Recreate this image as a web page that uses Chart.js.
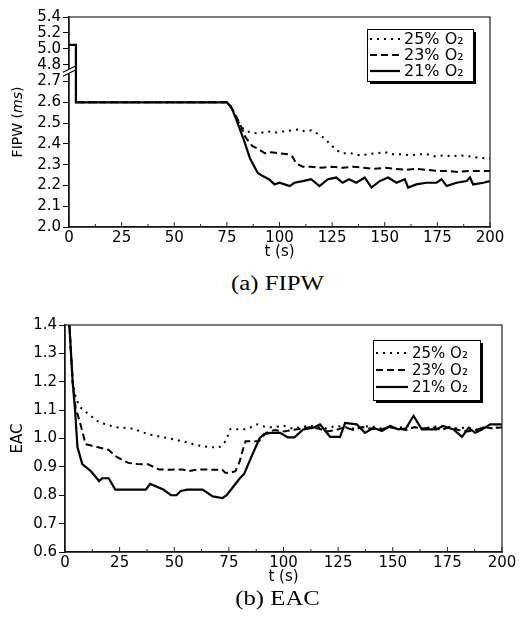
<!DOCTYPE html>
<html lang="en">
<head>
<meta charset="UTF-8">
<title>FIPW and EAC vs time</title>
<script src="https://cdn.jsdelivr.net/npm/chart.js"></script>
<style>
    body { margin: 0; background: #fff; }
    .page { position: relative; width: 519px; height: 619px; overflow: hidden; }
    canvas { position: absolute; left: 0; }
    #fipwChart { top: 0; }
    #eacChart { top: 300px; }
    .caption { position: absolute; left: 18px; width: 519px; text-align: center; font-family: "Liberation Serif", serif;
               font-size: 21px; line-height: 24px; color: #000; transform: scaleX(1.18); }
</style>
</head>
<body>
<div class="page">
    <canvas id="fipwChart" width="519" height="268"></canvas>
    <div class="caption" style="top:271px">(a) FIPW</div>
    <canvas id="eacChart" width="519" height="290"></canvas>
    <div class="caption" style="top:586px">(b) EAC</div>
</div>

<script>
// ---- data ----
const seriesLabels = ['25% O₂', '23% O₂', '21% O₂'];
const timeTicks = [0, 25, 50, 75, 100, 125, 150, 175, 200];

// (a) FIPW, ms
const fipwTicks = [2.0, 2.1, 2.2, 2.3, 2.4, 2.5, 2.6, 2.7, 4.8, 5.0, 5.2, 5.4];
const fipwTime25 = [0, 3.3, 3.3, 75, 78, 80, 83, 86, 90, 94, 98, 102, 106, 109, 112, 115, 118, 121, 124, 127, 130, 134, 138, 142, 146, 150, 154, 158, 162, 166, 170, 174, 178, 182, 186, 190, 194, 198, 200];
const fipw25 = [5.05, 5.05, 2.6, 2.6, 2.56, 2.51, 2.47, 2.455, 2.45, 2.46, 2.455, 2.46, 2.465, 2.47, 2.46, 2.465, 2.45, 2.43, 2.4, 2.37, 2.355, 2.355, 2.345, 2.35, 2.355, 2.36, 2.35, 2.35, 2.345, 2.35, 2.35, 2.34, 2.345, 2.34, 2.345, 2.34, 2.335, 2.33, 2.33];
const fipwTime23 = [0, 3.3, 3.3, 75, 78, 81, 84, 87, 90, 93, 96, 100, 104, 106, 108, 111, 115, 120, 125, 130, 135, 140, 145, 150, 155, 160, 165, 170, 175, 180, 185, 190, 195, 200];
const fipw23 = [5.05, 5.05, 2.6, 2.6, 2.56, 2.5, 2.43, 2.39, 2.375, 2.355, 2.36, 2.355, 2.35, 2.34, 2.305, 2.29, 2.29, 2.285, 2.29, 2.285, 2.29, 2.285, 2.28, 2.285, 2.28, 2.275, 2.28, 2.275, 2.27, 2.27, 2.265, 2.27, 2.27, 2.27];
const fipwTime21 = [0, 3.3, 3.3, 75, 77, 79, 83, 86, 89.7, 92, 95, 97.6, 100, 102.4, 104.8, 107.1, 111, 115, 119, 123, 127, 130, 133, 136.5, 140.5, 143.7, 147.6, 151.6, 155.6, 159.5, 161.1, 165, 169.8, 174.6, 177, 179.4, 184.1, 188.9, 190.5, 192, 196.8, 200];
const fipw21 = [5.05, 5.05, 2.6, 2.6, 2.58, 2.53, 2.42, 2.33, 2.26, 2.245, 2.23, 2.205, 2.213, 2.205, 2.197, 2.213, 2.221, 2.23, 2.197, 2.23, 2.238, 2.213, 2.23, 2.213, 2.238, 2.19, 2.221, 2.238, 2.213, 2.23, 2.19, 2.205, 2.213, 2.213, 2.23, 2.197, 2.213, 2.221, 2.238, 2.205, 2.213, 2.221];

// (b) EAC
const eacTicks = [0.6, 0.7, 0.8, 0.9, 1.0, 1.1, 1.2, 1.3, 1.4];
const eacTime25 = [2, 3.5, 5, 7, 10.6, 15.6, 23, 31, 38, 46, 54, 61, 66, 70.5, 73.5, 75.7, 79, 83, 88, 92, 96, 100, 104, 108, 112, 116, 120, 124, 128, 132, 136, 140, 144, 148, 152, 156, 160, 164, 168, 172, 176, 180, 184, 188, 192, 196, 200];
const eac25 = [1.4, 1.2, 1.14, 1.11, 1.087, 1.057, 1.04, 1.035, 1.015, 1.003, 0.99, 0.975, 0.97, 0.968, 0.99, 1.033, 1.033, 1.033, 1.05, 1.04, 1.04, 1.045, 1.035, 1.04, 1.045, 1.04, 1.035, 1.045, 1.04, 1.035, 1.04, 1.045, 1.035, 1.04, 1.035, 1.045, 1.04, 1.035, 1.04, 1.045, 1.04, 1.035, 1.04, 1.03, 1.04, 1.035, 1.045];
const eacTime23 = [2, 3.5, 5, 5.7, 7.9, 9.4, 12, 15.6, 20, 23, 26, 29, 33, 38, 43, 48, 53.6, 56.7, 60, 64, 68, 72, 73.4, 76, 78, 80, 81, 82.6, 85, 88.7, 92, 96, 100, 104, 108, 112, 116, 120, 124, 128, 132, 136, 140, 144, 148, 152, 156, 160, 164, 168, 172, 176, 180, 184, 188, 192, 196, 200];
const eac23 = [1.4, 1.2, 1.1, 1.087, 1.027, 0.98, 0.975, 0.968, 0.96, 0.938, 0.925, 0.914, 0.91, 0.909, 0.891, 0.89, 0.891, 0.885, 0.89, 0.891, 0.89, 0.89, 0.879, 0.88, 0.885, 0.92, 0.95, 0.99, 0.99, 0.99, 1.02, 1.03, 1.025, 1.03, 1.035, 1.04, 1.035, 1.025, 1.03, 1.04, 1.03, 1.04, 1.035, 1.03, 1.04, 1.035, 1.03, 1.04, 1.035, 1.04, 1.03, 1.04, 1.03, 1.025, 1.03, 1.04, 1.035, 1.04];
const eacTime21 = [2, 3.5, 4.6, 5.7, 7.9, 11.8, 15.6, 17, 20, 23, 37, 39, 42, 45, 48.5, 51, 53, 56, 63, 67.6, 72, 74, 77, 80, 82, 85, 89, 91, 94, 98.4, 102, 105, 109, 113.7, 116.7, 121.3, 125.9, 128.2, 133.5, 137.3, 141.2, 145, 148.8, 152.6, 156, 159.5, 163.3, 170, 173, 177.8, 181.7, 184.7, 187.7, 190.8, 194.6, 200];
const eac21 = [1.4, 1.2, 1.1, 0.97, 0.91, 0.885, 0.85, 0.86, 0.86, 0.82, 0.82, 0.84, 0.83, 0.82, 0.80, 0.80, 0.815, 0.82, 0.82, 0.796, 0.79, 0.80, 0.83, 0.86, 0.875, 0.93, 1.0, 1.015, 1.02, 1.02, 1.004, 1.004, 1.032, 1.038, 1.05, 1.006, 1.006, 1.055, 1.05, 1.02, 1.038, 1.026, 1.044, 1.032, 1.035, 1.08, 1.032, 1.032, 1.044, 1.032, 1.006, 1.038, 1.02, 1.032, 1.05, 1.05];

// broken y axis of (a): values between GAP_LOW and GAP_HIGH are cut out
const GAP_LOW = 2.75;
const GAP_HIGH = 4.72;
const BREAK_AT = 0.742;   // share of the axis height below the break

Chart.defaults.font.family = '"DejaVu Sans", sans-serif';
Chart.defaults.color = '#000';

class BrokenScale extends Chart.LinearScale {
    static id = 'broken';
    static defaults = Chart.LinearScale.defaults;
    getPixelForValue(value) {
        if (value === null || isNaN(value)) return NaN;
        let dec;
        if (value <= GAP_LOW) dec = (value - this.min) / (GAP_LOW - this.min) * BREAK_AT;
        else if (value >= GAP_HIGH) dec = BREAK_AT + (value - GAP_HIGH) / (this.max - GAP_HIGH) * (1 - BREAK_AT);
        else dec = BREAK_AT;
        return this.getPixelForDecimal(dec);
    }
    getValueForPixel(pixel) {
        const dec = this.getDecimalForPixel(pixel);
        if (dec <= BREAK_AT) return this.min + dec / BREAK_AT * (GAP_LOW - this.min);
        return GAP_HIGH + (dec - BREAK_AT) / (1 - BREAK_AT) * (this.max - GAP_HIGH);
    }
}
Chart.register(BrokenScale);

const pts = (ts, vs) => ts.map((t, i) => ({ x: t, y: vs[i] }));

function makeDatasets(t25, v25, t23, v23, t21, v21) {
    const common = { borderColor: '#000', pointRadius: 0, tension: 0 };
    return [
        { ...common, label: seriesLabels[0], data: pts(t25, v25), borderWidth: 2, borderDash: [2, 5] },
        { ...common, label: seriesLabels[1], data: pts(t23, v23), borderWidth: 2, borderDash: [7, 4] },
        { ...common, label: seriesLabels[2], data: pts(t21, v21), borderWidth: 2.2, borderDash: [] }
    ];
}

// frame, inward x ticks and the axis break
const framePlugin = {
    id: 'frame',
    afterDraw(chart) {
        const { ctx, chartArea: a } = chart;
        ctx.save();
        ctx.strokeStyle = '#222';
        ctx.lineWidth = 1.2;
        ctx.strokeRect(a.left, a.top, a.right - a.left, a.bottom - a.top);
        // x ticks point into the plot, minor every 12.5 s
        const xs = chart.scales.x;
        ctx.lineWidth = 1;
        for (let v = 0; v <= 200; v += 12.5) {
            const px = xs.getPixelForValue(v);
            const len = v % 25 === 0 ? 5 : 3;
            ctx.beginPath(); ctx.moveTo(px, a.bottom); ctx.lineTo(px, a.bottom - len); ctx.stroke();
        }
        const ys = chart.scales.y;
        if (ys.type === 'broken') {
            const py = ys.getPixelForDecimal(BREAK_AT);
            ctx.fillStyle = '#fff';
            ctx.fillRect(a.left - 3, py - 2, 6, 4);
            ctx.strokeStyle = '#000';
            ctx.lineWidth = 1.2;
            [-2, 2].forEach(d => {
                ctx.beginPath(); ctx.moveTo(a.left - 6, py + d + 3); ctx.lineTo(a.left + 6, py + d - 3); ctx.stroke();
            });
        }
        ctx.restore();
    }
};

// boxed legend with drop shadow
const boxLegend = {
    id: 'boxLegend',
    afterDraw(chart, args, o) {
        const ctx = chart.ctx;
        const sets = chart.data.datasets;
        const h = o.rowH * sets.length + o.pad * 2;
        ctx.save();
        ctx.fillStyle = '#fff';
        ctx.fillRect(o.left, o.top, o.width, h);
        ctx.fillStyle = '#000';
        ctx.fillRect(o.left + 3, o.top + h, o.width, 3);
        ctx.fillRect(o.left + o.width, o.top + 3, 3, h);
        ctx.strokeStyle = '#000';
        ctx.lineWidth = 1;
        ctx.strokeRect(o.left + 0.5, o.top + 0.5, o.width, h);
        ctx.font = o.fontSize + 'px "DejaVu Sans"';
        ctx.textBaseline = 'middle';
        sets.forEach((ds, i) => {
            const y = o.top + o.pad + o.rowH * (i + 0.5);
            ctx.setLineDash(ds.borderDash);
            ctx.lineWidth = ds.borderWidth;
            ctx.beginPath(); ctx.moveTo(o.left + 3, y); ctx.lineTo(o.left + o.sample, y); ctx.stroke();
            ctx.setLineDash([]);
            ctx.fillText(ds.label, o.left + o.sample + 4, y + 1);
        });
        ctx.restore();
    }
};

// rotated y title, parts may be italic
const yTitle = {
    id: 'yTitle',
    afterDraw(chart, args, o) {
        const ctx = chart.ctx;
        const a = chart.chartArea;
        const fonts = o.parts.map(p => p[1] + ' ' + o.size + 'px "DejaVu Sans"');
        let total = 0;
        o.parts.forEach((p, i) => { ctx.font = fonts[i]; total += ctx.measureText(p[0]).width; });
        ctx.save();
        ctx.translate(o.x, (a.top + a.bottom) / 2);
        ctx.rotate(-Math.PI / 2);
        ctx.fillStyle = '#000';
        ctx.textBaseline = 'middle';
        let x = -total / 2;
        o.parts.forEach((p, i) => { ctx.font = fonts[i]; ctx.fillText(p[0], x, 0); x += ctx.measureText(p[0]).width; });
        ctx.restore();
    }
};

function makeOptions(yScale, padding, legend, title) {
    return {
        responsive: false,
        animation: false,
        events: [],
        layout: { padding: padding },
        scales: {
            x: {
                type: 'linear', min: 0, max: 200,
                afterBuildTicks: s => { s.ticks = timeTicks.map(v => ({ value: v })); },
                ticks: { font: { size: 15 }, padding: 2, maxRotation: 0, autoSkip: false },
                grid: { display: true, drawOnChartArea: false, drawTicks: false },
                border: { color: '#000', width: 1.5 },
                title: { display: true, text: 't (s)', font: { size: 15 }, padding: 0 },
                afterFit: s => { s.height = 34; }
            },
            y: yScale
        },
        plugins: {
            legend: { display: false },
            tooltip: { enabled: false },
            boxLegend: legend,
            yTitle: title
        }
    };
}

function yAxis(type, min, max, ticks) {
    return {
        type: type, min: min, max: max,
        afterBuildTicks: s => { s.ticks = ticks.map(v => ({ value: v })); },
        ticks: { font: { size: 15 }, padding: 2, autoSkip: false, callback: v => Number(v).toFixed(1) },
        grid: { drawOnChartArea: false, drawTicks: true, tickLength: 6, color: '#000' },
        border: { color: '#000', width: 1.5 },
        afterFit: s => { s.width = type === 'broken' ? 69 : 65; }
    };
}

new Chart(document.getElementById('fipwChart'), {
    type: 'line',
    data: { datasets: makeDatasets(fipwTime25, fipw25, fipwTime23, fipw23, fipwTime21, fipw21) },
    options: makeOptions(
        yAxis('broken', 2.0, 5.4, fipwTicks),
        { top: 17, right: 29, bottom: 7, left: 0 },
        { left: 367, top: 29, width: 106, rowH: 16, pad: 2, sample: 33, fontSize: 16 },
        { x: 18, size: 14, parts: [['FIPW (', 'normal'], ['ms', 'italic'], [')', 'normal']] }
    ),
    plugins: [framePlugin, boxLegend, yTitle]
});

new Chart(document.getElementById('eacChart'), {
    type: 'line',
    data: { datasets: makeDatasets(eacTime25, eac25, eacTime23, eac23, eacTime21, eac21) },
    options: makeOptions(
        yAxis('linear', 0.6, 1.4, eacTicks),
        { top: 25, right: 17, bottom: 4, left: 0 },
        { left: 373, top: 40, width: 107, rowH: 17, pad: 4.5, sample: 35, fontSize: 15 },
        { x: 18, size: 15, parts: [['EAC', 'normal']] }
    ),
    plugins: [framePlugin, boxLegend, yTitle]
});
</script>
</body>
</html>
